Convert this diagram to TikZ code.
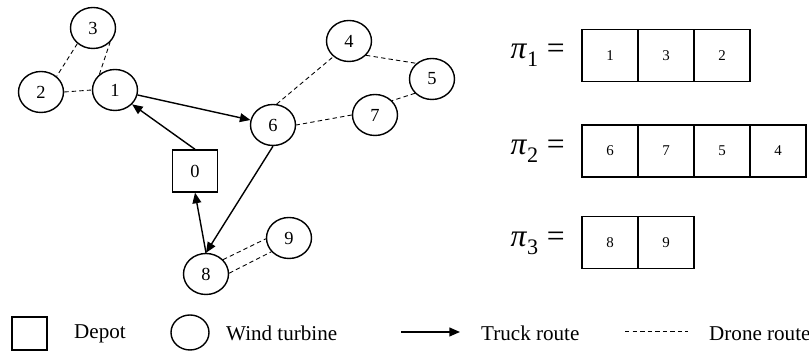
\documentclass[tikz,border=0pt]{standalone}
\usepackage{fontspec}
\setmainfont{Liberation Serif}
\usetikzlibrary{arrows.meta,shapes.geometric,positioning}

\begin{document}
\begin{tikzpicture}[
  turbine/.style={draw,thick,ellipse,minimum width=0.9cm,minimum height=0.82cm,inner sep=0pt,font=\fontsize{10.5}{12}\selectfont},
  depot/.style={draw,thick,rectangle,minimum width=0.9cm,minimum height=0.84cm,inner sep=0pt,font=\fontsize{10.5}{12}\selectfont},
  truck/.style={thick,-{Triangle[length=6pt,width=5pt]}},
  drone/.style={line width=0.5pt,dash pattern=on 2.5pt off 1.8pt},
  cell/.style={draw,thick,minimum width=1.12cm,minimum height=1.04cm,inner sep=0pt,outer sep=0pt,font=\fontsize{8.5}{10}\selectfont},
  perm/.style={font=\fontsize{18}{20}\selectfont,anchor=east},
  legend/.style={font=\fontsize{12}{14}\selectfont,anchor=west}
]
\useasboundingbox (0,0) rectangle (16.18,7.02);

% network
\node[depot] (n0) at (3.90,3.60) {0};
\node[turbine] (n1) at (2.30,5.22) {1};
\node[turbine] (n2) at (0.82,5.18) {2};
\node[turbine] (n3) at (1.86,6.46) {3};
\node[turbine] (n4) at (6.98,6.20) {4};
\node[turbine] (n5) at (8.64,5.44) {5};
\node[turbine] (n6) at (5.46,4.52) {6};
\node[turbine] (n7) at (7.50,4.72) {7};
\node[turbine] (n8) at (4.12,1.54) {8};
\node[turbine] (n9) at (5.78,2.26) {9};

% truck
\draw[truck] (n0.north) -- (n1.-40);
\draw[truck] (n1) -- (n6);
\draw[truck] (n6.south) -- (n8.north);
\draw[truck] (n8.north) -- (n0.south);

% drones
\draw[drone] (n1.135) -- (n3.-40);
\draw[drone] (n3.225) -- (n2.45);
\draw[drone] (n2.east) -- (n1.west);
\draw[drone] (n6.80) -- (n4.225);
\draw[drone] (n4.-40) -- (n5.135);
\draw[drone] (n5.220) -- (n7.40);
\draw[drone] (n7.west) -- (n6.east);
\draw[drone] (n8.40) -- (n9.182);
\draw[drone] (n8.2) -- (n9.218);

% sequences
\node[perm] (pi1) at (11.42,5.91) {\textit{π}\raisebox{-2pt}{\textsubscript{1}} =};
\node[perm] (pi2) at (11.42,3.99) {\textit{π}\raisebox{-2pt}{\textsubscript{2}} =};
\node[perm] (pi3) at (11.42,2.16) {\textit{π}\raisebox{-2pt}{\textsubscript{3}} =};
\foreach \v [count=\i] in {1,3,2}
  \node[cell] (s1c\i) at (11.08+\i*1.12,5.91) {\v};
\foreach \v [count=\i] in {6,7,5,4}
  \node[cell] (s2c\i) at (11.08+\i*1.12,4.00) {\v};
\foreach \v [count=\i] in {8,9}
  \node[cell] (s3c\i) at (11.08+\i*1.12,2.17) {\v};

% legend
\node[depot,minimum width=0.7cm,minimum height=0.66cm] (legdepot) at (0.59,0.35) {};
\node[legend] (legdepottxt) at (1.36,0.35) {Depot};
\node[turbine,minimum width=0.76cm,minimum height=0.70cm] (legturb) at (3.80,0.37) {};
\node[legend] (legturbtxt) at (4.40,0.35) {Wind turbine};
\coordinate (trkA) at (8.02,0.38);
\coordinate (trkB) at (9.20,0.38);
\draw[truck] (trkA) -- (trkB);
\node[legend] (legtrucktxt) at (9.50,0.35) {Truck route};
\coordinate (drnA) at (12.50,0.40);
\coordinate (drnB) at (13.76,0.40);
\draw[drone] (drnA) -- (drnB);
\node[legend] (legdronetxt) at (14.06,0.35) {Drone route};
\end{tikzpicture}
\end{document}
